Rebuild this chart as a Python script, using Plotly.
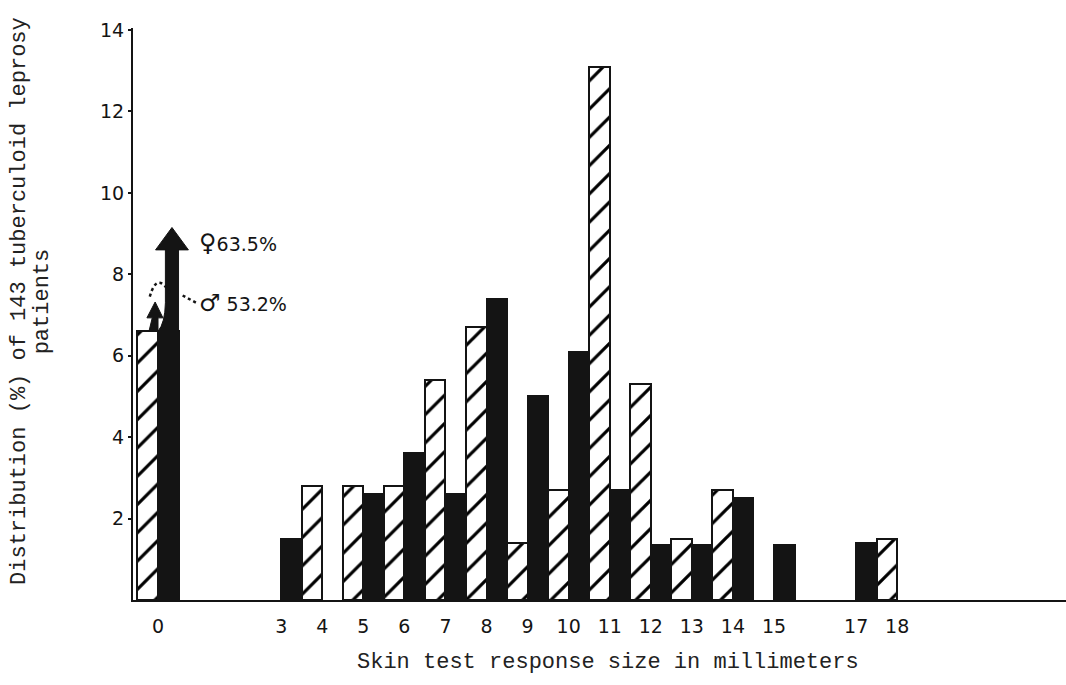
import plotly.graph_objects as go

# Skin test response size (mm) and distribution (%) by sex
MM = [0, 3, 4, 5, 6, 7, 8, 9, 10, 11, 12, 13, 14, 15, 17, 18]
MALE = [53.2, None, 2.8, 2.8, 2.8, 5.4, 6.7, 1.4, 2.7, 13.1, 5.3, 1.5, 2.7, None, None, 1.5]
FEMALE = [63.5, 1.5, None, 2.6, 3.6, 2.6, 7.4, 5.0, 6.1, 2.7, 1.35, 1.35, 2.5, 1.35, 1.4, None]
Y_TICKS = [2, 4, 6, 8, 10, 12, 14]

Y_TOP = 14.05
# bars taller than the axis are cut at BREAK and finished with an arrow
BREAK = 6.6
INK = "#141414"
MONO = "Liberation Mono"
SANS = "DejaVu Sans"


def clipped(values):
    return [None if v is None else (BREAK if v > Y_TOP else v) for v in values]


fig = go.Figure()
fig.add_bar(
    x=MM, y=clipped(MALE), name="male",
    marker=dict(
        color="white",
        line=dict(color=INK, width=2),
        pattern=dict(shape="/", size=20, solidity=0.16, fgcolor="#000000",
                     fgopacity=1, bgcolor="white", fillmode="replace"),
    ),
)
fig.add_bar(
    x=MM, y=clipped(FEMALE), name="female",
    marker=dict(color=INK, line=dict(color=INK, width=2)),
)

# arrows continuing the two cut bars at 0 mm
head_f, tip_f = 8.6, 9.15
head_m, tip_m = 6.93, 7.32
shapes = [
    dict(type="path", xref="x", yref="y", layer="above",
         path=(f"M 0,{BREAK} Q 0.17,{BREAK + 0.2} 0.18,7.3 L 0.18,{head_f} "
               f"L -0.06,{head_f} L 0.34,{tip_f} L 0.74,{head_f} L 0.5,{head_f} "
               f"L 0.5,{BREAK} Z"),
         fillcolor=INK, line=dict(color=INK, width=1)),
    dict(type="path", xref="x", yref="y", layer="above",
         path=(f"M -0.22,{BREAK} L -0.14,{head_m} L -0.27,{head_m} L -0.07,{tip_m} "
               f"L 0.12,{head_m} L 0,{head_m} L 0,{BREAK} Z"),
         fillcolor=INK, line=dict(color=INK, width=1)),
    dict(type="path", xref="x", yref="y", layer="above",
         path="M -0.2,7.45 Q -0.02,8.1 0.3,7.52",
         line=dict(color=INK, width=2.5, dash="dot")),
    dict(type="path", xref="x", yref="y", layer="above",
         path="M 0.6,7.48 L 0.97,7.28",
         line=dict(color=INK, width=2.5, dash="dot")),
]

SYM = '<span style="font-size:24px">{}</span>'
annotations = [
    dict(x=0.95, y=8.77, xref="x", yref="y", xanchor="left", yanchor="middle",
         text=SYM.format("\u2640") + f"{FEMALE[0]}%", showarrow=False,
         font=dict(family=SANS, size=19, color=INK)),
    dict(x=0.95, y=7.3, xref="x", yref="y", xanchor="left", yanchor="middle",
         text=SYM.format("\u2642") + f" {MALE[0]}%", showarrow=False,
         font=dict(family=SANS, size=19, color=INK)),
    dict(x=0.509, y=-0.11, xref="paper", yref="paper", xanchor="center", yanchor="middle",
         text="Skin test response size in millimeters", showarrow=False,
         font=dict(family=MONO, size=22, color="#222")),
    dict(x=-0.121, y=0.523, xref="paper", yref="paper", xanchor="center", yanchor="middle",
         text="Distribution (%) of 143 tuberculoid leprosy", textangle=-90, showarrow=False,
         font=dict(family=MONO, size=22, color="#222")),
    dict(x=-0.097, y=0.523, xref="paper", yref="paper", xanchor="center", yanchor="middle",
         text="patients", textangle=-90, showarrow=False,
         font=dict(family=MONO, size=22, color="#222")),
]

fig.update_layout(
    width=1066, height=685,
    margin=dict(l=133, r=0, t=28, b=85, pad=0),
    paper_bgcolor="white", plot_bgcolor="white",
    barmode="group", bargap=0, bargroupgap=0,
    showlegend=False,
    shapes=shapes, annotations=annotations,
    xaxis=dict(
        range=[-0.609, 22.11], showgrid=False, zeroline=False,
        showline=True, linecolor=INK, linewidth=2,
        tickmode="array", tickvals=MM, ticktext=[str(m) for m in MM],
        ticks="", ticklabelstandoff=8,
        tickfont=dict(family=SANS, size=19, color=INK),
    ),
    yaxis=dict(
        range=[0, Y_TOP], showgrid=False, zeroline=False,
        showline=True, linecolor=INK, linewidth=2,
        tickmode="array", tickvals=Y_TICKS, ticktext=[str(t) for t in Y_TICKS],
        ticks="outside", ticklen=3, tickwidth=2, tickcolor=INK,
        tickfont=dict(family=SANS, size=19, color=INK),
    ),
)

fig.write_html("out.html")
